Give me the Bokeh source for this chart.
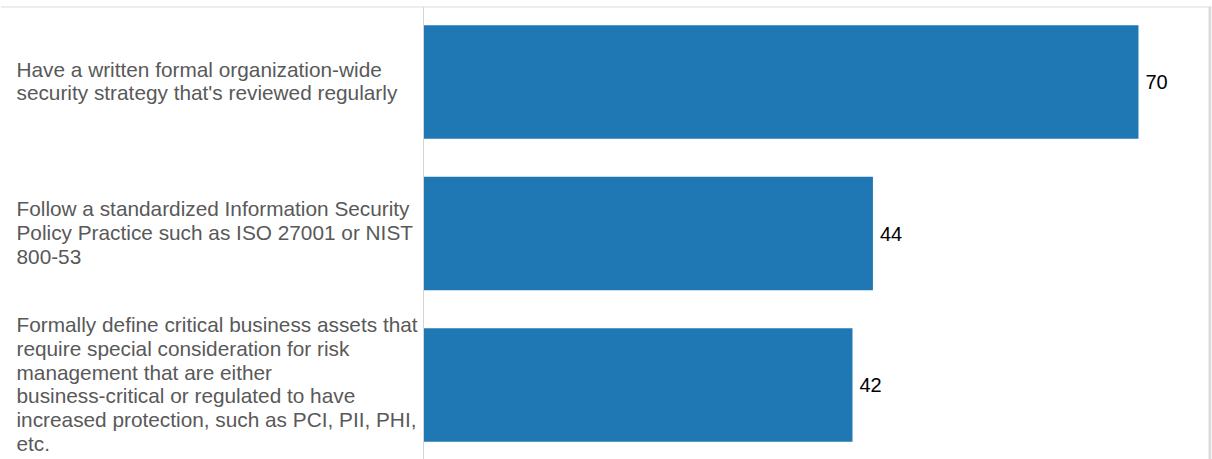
from bokeh.plotting import figure
from bokeh.models import ColumnDataSource, Range1d, Span
from bokeh.core.properties import value
from bokeh.embed import file_html
from bokeh.resources import INLINE

categories = [
    "Have a written formal organization-wide\nsecurity strategy that's reviewed regularly",
    "Follow a standardized Information Security\nPolicy Practice such as ISO 27001 or NIST\n800-53",
    "Formally define critical business assets that\nrequire special consideration for risk\nmanagement that are either\nbusiness-critical or regulated to have\nincreased protection, such as PCI, PII, PHI,\netc.",
]
values = [70, 44, 42]
value_labels = [str(v) for v in values]

W, H = 1212, 459
n = len(categories)
ypos = [n - 0.5 - i for i in range(n)]

# pixel geometry
scale_x = 10.214
zero_px = 423          # x=0 offset from frame left
frame_w = W - 1
x_start = -zero_px / scale_x
x_end = (frame_w - zero_px) / scale_x
right_border = (1209.5 - zero_px) / scale_x

band_px = 151.5
top_pad = 6
frame_h = H - top_pad
top_center_off = 81.5 - top_pad
y_end = ypos[0] + top_center_off / band_px
y_start = y_end - frame_h / band_px

src = ColumnDataSource(dict(y=ypos, v=values, cat=categories, lab=value_labels,
                            xl=[x_start] * n))

p = figure(width=W, height=H, output_backend="svg", toolbar_location=None,
           x_range=Range1d(x_start, x_end), y_range=Range1d(y_start, y_end),
           x_axis_location=None, y_axis_location=None,
           min_border_left=0, min_border_right=1, min_border_top=top_pad, min_border_bottom=0)
p.xgrid.visible = False
p.ygrid.visible = False
p.outline_line_color = None
p.background_fill_color = "white"
p.border_fill_color = "white"

p.hbar(y="y", left=0, right="v", height=0.75, source=src,
       fill_color="#1f77b4", line_color=None)

p.text(x="v", y="y", text="lab", source=src, x_offset=7,
       text_align="left", text_baseline="middle",
       text_font=value("Liberation Sans"), text_font_size="20px", text_color="black")

p.text(x="xl", y="y", text="cat", source=src, x_offset=16, y_offset=-1,
       text_align="left", text_baseline="middle", text_line_height=1.03,
       text_font=value("Liberation Sans"), text_font_size="20.8px", text_color="#595959")

p.add_layout(Span(location=0, dimension="height", line_color="#d4d4d4", line_width=1))
p.add_layout(Span(location=y_end, dimension="width", line_color="#dcdcdc", line_width=2))
p.add_layout(Span(location=right_border, dimension="height", line_color="#dcdcdc", line_width=3))

open("out.html", "w").write(file_html(p, INLINE))
